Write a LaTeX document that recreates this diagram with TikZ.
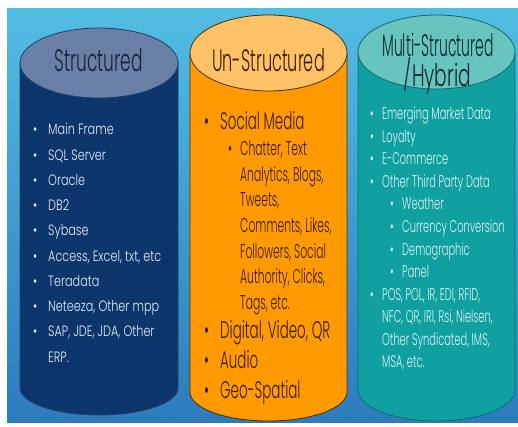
\documentclass[tikz,border=0pt]{standalone}
\usepackage{fontspec}
% narrow geometric lettering in several widths
\newfontfamily\gothicT[FakeStretch=0.55]{Poppins Light}
\newfontfamily\gothicTU[FakeStretch=0.52]{Poppins Light}
\newfontfamily\gothicTM[FakeStretch=0.45]{Poppins Light}
\newfontfamily\gothicTH[FakeStretch=0.60]{Poppins Light}
\newfontfamily\gothicS[FakeStretch=0.75]{Poppins Light}
\newfontfamily\gothicU[FakeStretch=0.56]{Poppins Light}
\newfontfamily\gothicV[FakeStretch=0.54]{Poppins Light}
\newfontfamily\gothicM[FakeStretch=0.58]{Poppins Light}

\definecolor{bgtop}{HTML}{52BDE3}
\definecolor{bgbot}{HTML}{2D7BBC}
\definecolor{navytop}{HTML}{6A7FA6}
\definecolor{navybody}{HTML}{0C366B}
\definecolor{navyline}{HTML}{1F3F6A}
\definecolor{navytext}{HTML}{E6ECF4}
\definecolor{navytitle}{HTML}{17223A}
\definecolor{orangetop}{HTML}{FFC266}
\definecolor{orangebody}{HTML}{FF9A00}
\definecolor{orangeline}{HTML}{4A2E00}
\definecolor{orangetext}{HTML}{3A1C00}
\definecolor{tealtop}{HTML}{68C4BF}
\definecolor{tealbody}{HTML}{0FA09F}
\definecolor{tealline}{HTML}{0A6E70}
\definecolor{tealtext}{HTML}{DDF3F2}
\definecolor{tealtitle}{HTML}{0B2A2A}

\tikzset{
  item/.style={anchor=base west, inner sep=0pt},
  title/.style={anchor=base, inner sep=0pt},
  stxt/.style={item, text=navytext, font=\gothicS\fontsize{15}{15}\selectfont},
  utxt/.style={item, text=orangetext, font=\gothicU\fontsize{24}{24}\selectfont},
  usub/.style={item, text=orangetext, font=\gothicV\fontsize{20}{20}\selectfont},
  mtxt/.style={item, text=tealtext, font=\gothicM\fontsize{17}{17}\selectfont},
}

% cylinder: left x, right x, centre y of the lid, lid radius, foot of the sides, base radius
\newcommand\drum[8]{%
  \pgfmathsetmacro\cx{(#1+#2)/2}\pgfmathsetmacro\rx{(#2-#1)/2}%
  \filldraw[fill=#7, draw=#8, line width=0.8pt]
    (#1,#3) -- (#1,#5) arc[start angle=180, end angle=0, x radius=\rx, y radius=#6]
    -- (#2,#3) -- cycle;
}
\newcommand\lid[6]{%
  \pgfmathsetmacro\cx{(#1+#2)/2}\pgfmathsetmacro\rx{(#2-#1)/2}%
  \filldraw[fill=#5, draw=#6, line width=0.8pt] (\cx,#3) ellipse[x radius=\rx, y radius=#4];
}

\begin{document}
\begin{tikzpicture}[x=1pt,y=-1pt]
\useasboundingbox (0,0) rectangle (518,427);
\fill[white] (0,0) rectangle (518,427);
\shade[top color=bgtop, bottom color=bgbot] (7,9) rectangle (518,422);

% Structured
\drum{20}{178}{63}{35}{388}{27}{navybody}{navyline}
\lid{20}{178}{63}{35}{navytop}{navyline}
\node[title, text=navytitle, font=\gothicT\fontsize{31}{31}\selectfont] (t1) at (98.5,72) {Structured};
\foreach \t [count=\i] in {Main Frame, SQL Server, Oracle, DB2, Sybase,
  {Access, Excel, txt, etc}, Teradata, {Neteeza, Other mpp}, {SAP, JDE, JDA, Other}}{
  \node[stxt] (s\i) at (48,{135+(\i-1)*25.2}) {\t};
  \node[stxt] (sb\i) at (33,{135+(\i-1)*25.2}) {•};
}
\node[stxt] (s10) at (48,362) {ERP.};

% Un-Structured
\drum{190}{347}{53}{38}{392}{29}{orangebody}{orangeline}
\lid{190}{347}{53}{38}{orangetop}{orangeline}
\node[title, text=orangetext, font=\gothicTU\fontsize{31}{31}\selectfont] (t2) at (268.5,72) {Un-Structured};
\foreach \t/\y [count=\i] in {Social Media/130, {Digital, Video, QR}/338, Audio/368, Geo-Spatial/398}{
  \node[utxt] (u\i) at (220,\y) {\t};
  \node[utxt] (ub\i) at (204,\y) {•};
}
\node[usub] (vb) at (228,156) {•};
\foreach \t [count=\i] in {{Chatter, Text}, {Analytics, Blogs,}, {Tweets,}, {Comments, Likes,},
  {Followers, Social}, {Authority, Clicks,}, {Tags, etc.}}{
  \node[usub] (v\i) at (240,{156+(\i-1)*25.5}) {\t};
}

% Multi-Structured / Hybrid
\drum{358}{515}{52}{37}{390}{31}{tealbody}{tealline}
\lid{358}{515}{52}{37}{tealtop}{tealline}
\node[title, text=tealtitle, font=\gothicTM\fontsize{31}{31}\selectfont] (t3a) at (438,57) {Multi-Structured};
\node[title, text=tealtitle, font=\gothicTH\fontsize{31}{31}\selectfont] (t3b) at (437.5,87) {/Hybrid};
\foreach \t/\x/\b [count=\i] in {Emerging Market Data/382/370, Loyalty/382/370, E-Commerce/382/370,
  Other Third Party Data/382/370, Weather/402/390, Currency Conversion/402/390,
  Demographic/402/390, Panel/402/390, {POS, POL, IR, EDI, RFID,}/382/370,
  {NFC, QR, IRI, Rsi, Nielsen,}/382/-1, {Other Syndicated, IMS,}/382/-1, {MSA, etc.}/382/-1}{
  \node[mtxt] (m\i) at (\x,{120+(\i-1)*22.5}) {\t};
  \ifnum\b>0
    \node[mtxt] (mb\i) at (\b,{120+(\i-1)*22.5}) {•};
  \fi
}
\end{tikzpicture}
\end{document}
